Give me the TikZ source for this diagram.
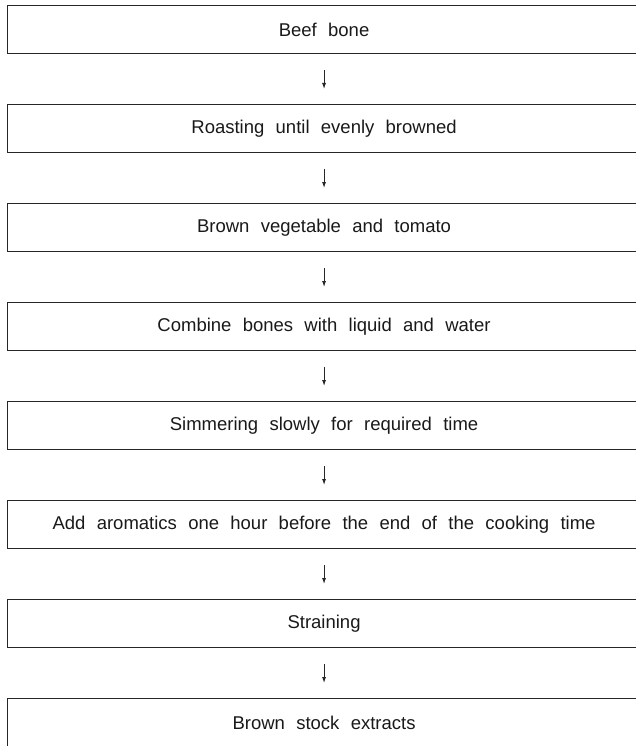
\documentclass[tikz,border=0pt]{standalone}
\usepackage{fontspec}
\setmainfont[WordSpace=2.2]{Liberation Sans}
\usepackage{tikz}
\usetikzlibrary{positioning}
\usetikzlibrary{arrows.meta}
\tikzset{
   stage/.style={draw=black!85, line width=1.1pt, rectangle,
      minimum width=633pt, minimum height=48pt, inner sep=0pt,
      font=\fontsize{18.5}{22}\selectfont, text=black!90},
   flow/.style={draw=black!85, line width=0.9pt,
      -{Latex[length=6pt,width=4pt]},
      shorten <=16pt, shorten >=15pt},
    }
\begin{document}
\begin{tikzpicture}[x=1pt,y=-1pt]
        \useasboundingbox (0,0) rectangle (636,746);
        \clip (0,0) rectangle (636,746);
        \node[stage, anchor=north west] (bone) at (7,5) {Beef bone};
        \node[stage, below=49.9pt of bone] (roast) {Roasting until evenly browned};
        \node[stage, below=49.9pt of roast] (veg) {Brown vegetable and tomato};
        \node[stage, below=49.9pt of veg] (combine) {Combine bones with liquid and water};
        \node[stage, below=49.9pt of combine] (simmer) {Simmering slowly for required time};
        \node[stage, below=49.9pt of simmer] (aroma) {Add aromatics one hour before the end of the cooking time};
        \node[stage, below=49.9pt of aroma] (strain) {Straining};
        \node[stage, below=49.9pt of strain] (stock) {Brown stock extracts};
        \foreach \a/\b in {bone/roast, roast/veg, veg/combine, combine/simmer,
                           simmer/aroma, aroma/strain, strain/stock}
            \draw[flow] (\a) -- (\b);
    \end{tikzpicture}
\end{document}
